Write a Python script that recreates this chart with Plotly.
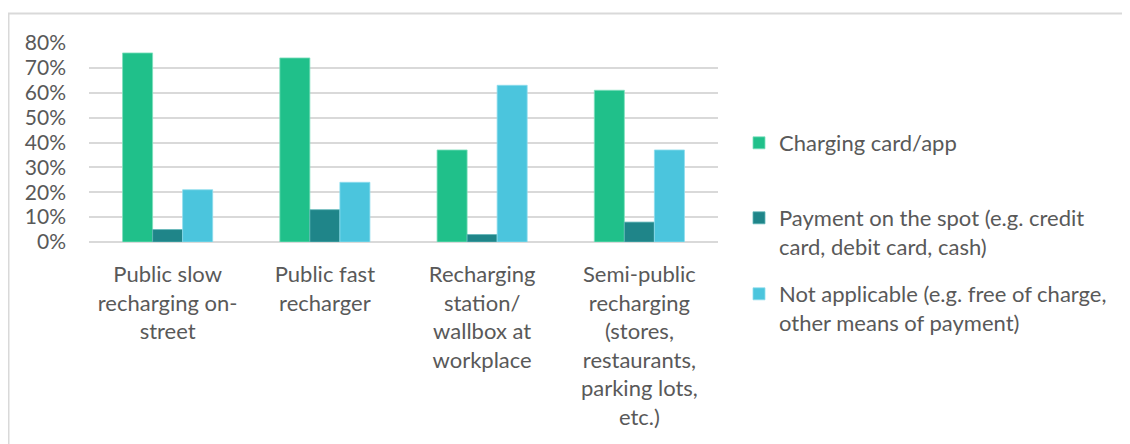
import plotly.graph_objects as go

categories = [
    "Public slow<br>recharging on-<br>street",
    "Public fast<br>recharger",
    "Recharging<br>station/<br>wallbox at<br>workplace",
    "Semi-public<br>recharging<br>(stores,<br>restaurants,<br>parking lots,<br>etc.)",
]
series_names = [
    "Charging card/app",
    "Payment on the spot (e.g. credit<br>card, debit card, cash)",
    "Not applicable (e.g. free of charge,<br>other means of payment)",
]
charging_card_app = [0.76, 0.74, 0.37, 0.61]
payment_on_spot = [0.05, 0.13, 0.03, 0.08]
not_applicable = [0.21, 0.24, 0.63, 0.37]
tick_vals = [0, 0.1, 0.2, 0.3, 0.4, 0.5, 0.6, 0.7, 0.8]
tick_text = ["0%", "10%", "20%", "30%", "40%", "50%", "60%", "70%", "80%"]

colors = ["#20C08A", "#1F8589", "#4BC5DD"]
edge = ["#7FE0BE", "#5FB5B8", "#8EDDEE"]
values = [charging_card_app, payment_on_spot, not_applicable]
legends = ["legend", "legend2", "legend3"]

FONT = "Lato"
TXT = "#595959"

fig = go.Figure()
for name, vals, c, e, lg in zip(series_names, values, colors, edge, legends):
    fig.add_trace(go.Bar(
        x=categories, y=vals, name=name,
        marker=dict(color=c, line=dict(color=e, width=0.8)),
        legend=lg,
    ))

# page body has an 8px margin, so figure pixels = screen pixels - 8
W, H = 1122, 436
L, R, T, B = 81, 412, 35, 202
pw = W - L - R
ph = H - T - B

def px_x(x):
    return (x - L) / pw

def px_y(y):
    return (H - B - y) / ph

leg_font = dict(family=FONT, size=22, color=TXT)
leg_common = dict(font=leg_font, bgcolor="rgba(0,0,0,0)", borderwidth=0,
                  xanchor="left", valign="top", itemclick=False)

LEGX = px_x(731)

fig.update_layout(
    width=W, height=H,
    margin=dict(l=L, r=R, t=T, b=B),
    paper_bgcolor="white", plot_bgcolor="white",
    barmode="group", bargap=0.427, bargroupgap=0,
    font=dict(family=FONT, size=21, color=TXT),
    showlegend=True,
    legend=dict(x=LEGX, y=px_y(114), yanchor="top", **leg_common),
    legend2=dict(x=LEGX, y=px_y(189), yanchor="top", **leg_common),
    legend3=dict(x=LEGX, y=px_y(265), yanchor="top", **leg_common),
    xaxis=dict(showgrid=False, showline=False, zeroline=False,
               tickfont=dict(family=FONT, size=22, color=TXT),
               ticks="", ticklabelstandoff=17),
    yaxis=dict(range=[0, 0.8], tickvals=tick_vals, ticktext=tick_text,
               showgrid=True, gridcolor="#D9D9D9", gridwidth=1.5,
               zeroline=True, zerolinecolor="#D9D9D9", zerolinewidth=1.5,
               showline=False, ticks="", ticklabelstandoff=22,
               tickfont=dict(family=FONT, size=21, color=TXT)),
    shapes=[dict(type="rect", xref="paper", yref="paper",
                 x0=px_x(0.5), x1=px_x(1200), y0=px_y(500), y1=px_y(5.5),
                 line=dict(color="#D9D9D9", width=2), fillcolor="rgba(0,0,0,0)",
                 layer="below")],
)

fig.write_html("out.html")
